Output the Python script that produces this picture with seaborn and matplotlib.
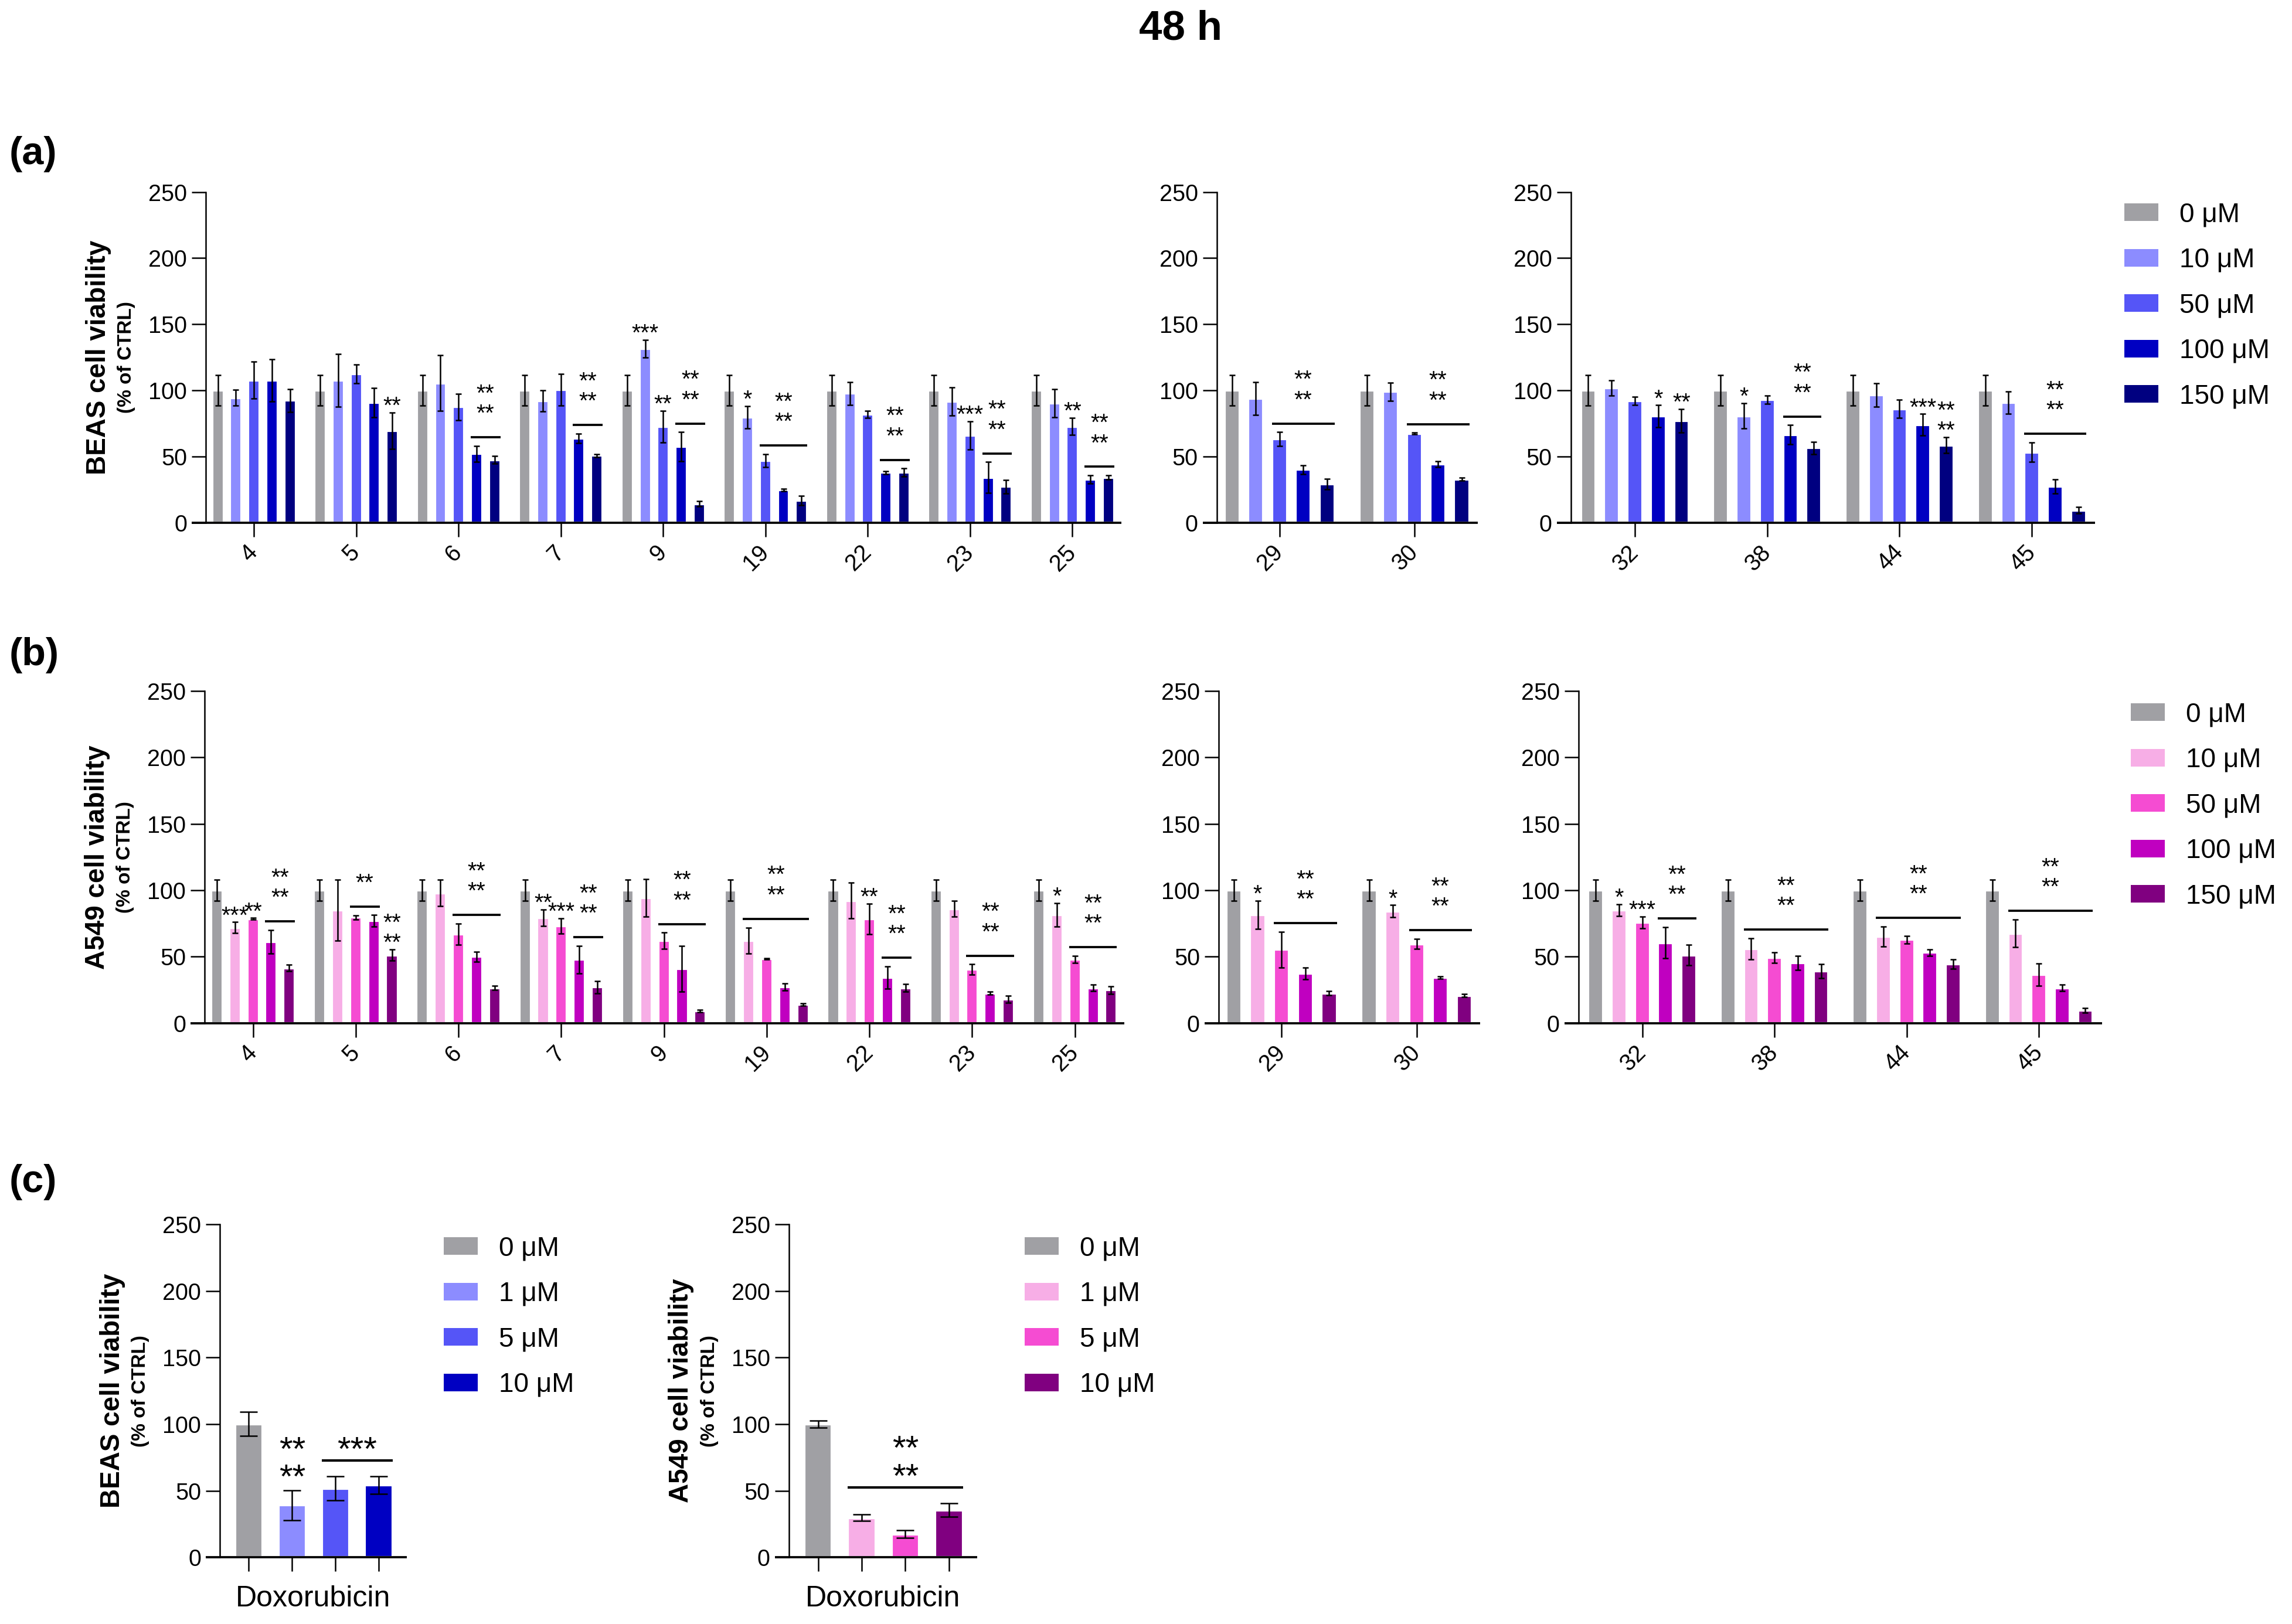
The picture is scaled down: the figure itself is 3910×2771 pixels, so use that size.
"""48 h viability of BEAS and A549 cells: grouped bars with SD and significance marks."""

import matplotlib

matplotlib.use("Agg")
import matplotlib.pyplot as plt
import pandas as pd
import seaborn as sns
from matplotlib.patches import Patch

# ---------------------------------------------------------------- data
DOSES = ["0 μM", "10 μM", "50 μM", "100 μM", "150 μM"]
COMPOUNDS = ["4", "5", "6", "7", "9", "19", "22", "23", "25", "29", "30", "32", "38", "44", "45"]

BEAS_MEAN = [
    [100, 94.5, 107.7, 107.7, 92.4],
    [100, 107.7, 112.5, 90.7, 69.6],
    [100, 105.5, 87.6, 52.2, 47.6],
    [100, 92.0, 100.5, 63.9, 50.8],
    [100, 131.6, 72.8, 57.5, 14.2],
    [100, 79.7, 47.0, 24.7, 16.7],
    [100, 97.7, 81.9, 37.9, 38.0],
    [100, 91.8, 66.0, 34.3, 27.3],
    [100, 90.3, 72.8, 32.8, 34.3],
    [100, 94.0, 63.3, 40.2, 29.4],
    [100, 99.0, 67.4, 44.1, 32.8],
    [100, 102.0, 92.0, 80.4, 77.2],
    [100, 80.8, 92.9, 66.6, 56.5],
    [100, 96.7, 86.0, 74.0, 58.6],
    [100, 90.7, 53.3, 27.3, 9.5],
]
BEAS_SD = [
    [11.5, 6.0, 14.0, 16.0, 8.5],
    [11.5, 20.0, 7.0, 11.0, 13.7],
    [11.5, 21.0, 10.0, 6.0, 3.0],
    [11.5, 8.0, 12.0, 3.6, 1.0],
    [11.5, 6.7, 12.0, 11.0, 2.0],
    [11.5, 8.5, 5.0, 1.0, 3.5],
    [11.5, 8.5, 2.7, 1.0, 3.0],
    [11.5, 10.6, 10.6, 11.6, 5.0],
    [11.5, 10.6, 6.5, 3.0, 1.5],
    [11.5, 12.5, 5.2, 3.4, 4.0],
    [11.5, 6.8, 0.6, 2.2, 1.1],
    [11.5, 5.7, 3.0, 8.4, 8.8],
    [11.5, 9.5, 3.2, 7.2, 4.6],
    [11.5, 8.8, 6.8, 8.2, 6.0],
    [11.5, 8.5, 7.4, 5.3, 2.5],
]

A549_MEAN = [
    [100, 72.0, 78.5, 61.2, 41.5],
    [100, 85.0, 79.6, 76.9, 51.2],
    [100, 98.0, 67.0, 50.1, 26.5],
    [100, 79.2, 73.2, 47.8, 27.2],
    [100, 94.2, 61.9, 40.9, 9.2],
    [100, 62.3, 48.5, 27.2, 13.9],
    [100, 92.3, 78.5, 34.2, 26.5],
    [100, 86.1, 40.4, 22.6, 18.0],
    [100, 81.5, 48.0, 26.5, 24.9],
    [100, 81.5, 55.4, 37.4, 22.6],
    [100, 84.3, 59.6, 34.2, 20.8],
    [100, 85.0, 75.7, 60.5, 51.2],
    [100, 55.9, 49.2, 45.5, 39.2],
    [100, 65.1, 62.8, 53.1, 44.3],
    [100, 67.6, 36.5, 26.5, 9.7],
]
A549_SD = [
    [8.0, 4.0, 0.6, 8.8, 2.3],
    [8.0, 23.0, 1.6, 4.4, 4.2],
    [8.0, 10.0, 8.0, 3.7, 1.6],
    [8.0, 6.2, 5.8, 10.4, 4.6],
    [8.0, 14.0, 6.2, 17.3, 0.8],
    [8.0, 9.7, 0.5, 2.8, 1.0],
    [8.0, 13.4, 11.5, 8.5, 3.0],
    [8.0, 5.8, 3.9, 1.2, 2.8],
    [8.0, 9.0, 2.8, 2.3, 2.8],
    [8.0, 10.8, 13.4, 4.6, 1.6],
    [8.0, 4.6, 3.9, 1.0, 1.2],
    [8.0, 4.6, 4.4, 11.8, 7.7],
    [8.0, 8.0, 3.9, 5.3, 5.3],
    [8.0, 7.6, 3.0, 2.3, 3.5],
    [8.0, 10.4, 8.5, 2.3, 1.8],
]

# (compound, first dose index, last dose index, stars, bracket line)
BEAS_MARKS = [
    ("5", 4, 4, "**", False),
    ("6", 3, 4, "****", True),
    ("7", 3, 4, "****", True),
    ("9", 1, 1, "***", False), ("9", 2, 2, "**", False), ("9", 3, 4, "****", True),
    ("19", 1, 1, "*", False), ("19", 2, 4, "****", True),
    ("22", 3, 4, "****", True),
    ("23", 2, 2, "***", False), ("23", 3, 4, "****", True),
    ("25", 2, 2, "**", False), ("25", 3, 4, "****", True),
    ("29", 2, 4, "****", True),
    ("30", 2, 4, "****", True),
    ("32", 3, 3, "*", False), ("32", 4, 4, "**", False),
    ("38", 1, 1, "*", False), ("38", 3, 4, "****", True),
    ("44", 3, 3, "***", False), ("44", 4, 4, "****", False),
    ("45", 2, 4, "****", True),
]
A549_MARKS = [
    ("4", 1, 1, "***", False), ("4", 2, 2, "**", False), ("4", 3, 4, "****", True),
    ("5", 2, 3, "**", True), ("5", 4, 4, "****", False),
    ("6", 2, 4, "****", True),
    ("7", 1, 1, "**", False), ("7", 2, 2, "***", False), ("7", 3, 4, "****", True),
    ("9", 2, 4, "****", True),
    ("19", 1, 4, "****", True),
    ("22", 2, 2, "**", False), ("22", 3, 4, "****", True),
    ("23", 2, 4, "****", True),
    ("25", 1, 1, "*", False), ("25", 2, 4, "****", True),
    ("29", 1, 1, "*", False), ("29", 2, 4, "****", True),
    ("30", 1, 1, "*", False), ("30", 2, 4, "****", True),
    ("32", 1, 1, "*", False), ("32", 2, 2, "***", False), ("32", 3, 4, "****", True),
    ("38", 1, 4, "****", True),
    ("44", 1, 4, "****", True),
    ("45", 1, 4, "****", True),
]

DOX_DOSES = ["0 μM", "1 μM", "5 μM", "10 μM"]
DOX_BEAS_MEAN = [100, 39.1, 51.6, 54.0]
DOX_BEAS_SD = [9.0, 11.2, 9.0, 6.6]
DOX_A549_MEAN = [100, 29.6, 17.4, 35.4]
DOX_A549_SD = [2.6, 2.4, 2.9, 5.2]
DOX_BEAS_MARKS = [("Doxorubicin", 1, 1, "****", False), ("Doxorubicin", 2, 3, "***", True)]
DOX_A549_MARKS = [("Doxorubicin", 1, 3, "****", True)]

BEAS_COLORS = ["#A0A0A4", "#8C8CFF", "#5555F7", "#0000C2", "#000080"]
A549_COLORS = ["#A0A0A4", "#F7AEE6", "#F54CD2", "#C000C0", "#800080"]
DOX_BEAS_COLORS = BEAS_COLORS[:4]
DOX_A549_COLORS = ["#A0A0A4", "#F7AEE6", "#F54CD2", "#800080"]

# ---------------------------------------------------------------- layout
FIG_W, FIG_H = 3910 / 300, 2771 / 300
GROUP_SLICES = [slice(0, 9), slice(9, 11), slice(11, 15)]
GROUP_XLIMS = [(-0.47, 8.48), (-0.465, 1.47), (-0.483, 3.478)]
A_RECTS = [
    (0.0898, 0.6781, 0.3995, 0.2037),
    (0.5309, 0.6781, 0.1138, 0.2037),
    (0.6854, 0.6781, 0.2287, 0.2037),
]
B_RECTS = [
    (0.0893, 0.3700, 0.4012, 0.2045),
    (0.5317, 0.3700, 0.1141, 0.2045),
    (0.6887, 0.3700, 0.2284, 0.2045),
]
C_RECTS = [(0.0959, 0.0411, 0.0816, 0.2050), (0.3442, 0.0411, 0.0822, 0.2050)]
TICK_LEN = 5.7


def style_axis(ax, xlim):
    """GraphPad-like axes: left spine, bottom line running out to the tick start."""
    ax.set_ylim(0, 250)
    ax.set_yticks(range(0, 251, 50))
    ax.set_xlim(*xlim)
    ax.spines[["top", "right", "bottom"]].set_visible(False)
    ax.spines["left"].set_linewidth(0.6)
    ax.tick_params(axis="both", length=TICK_LEN, width=0.6, labelsize=9.5, colors="black")
    ax.tick_params(axis="y", pad=2)
    width_pt = ax.get_position().width * FIG_W * 72
    ax.plot([-TICK_LEN / width_pt, 1], [0, 0], transform=ax.transAxes, color="black",
            lw=0.9, clip_on=False, solid_capstyle="butt", zorder=4)
    ax.set_xlabel("")
    ax.set_ylabel("")


def add_errorbars(ax, bars, sds, capsize):
    xs = [b.get_x() + b.get_width() / 2 for b in bars]
    ys = [b.get_height() for b in bars]
    ax.errorbar(xs, ys, yerr=sds, fmt="none", ecolor="black", elinewidth=0.6,
                capsize=capsize, capthick=0.6, zorder=3, clip_on=False)


def add_marks(ax, bar_lookup, sd_lookup, marks, fs, line_pad, bar_lift, line_lift, row_gap, lw):
    """Stars above single bars or above a bracket line spanning several bars."""
    spacing = row_gap / (0.716 * fs)
    for key, first, last, label, has_line in marks:
        if key not in bar_lookup:
            continue
        span = bar_lookup[key][first:last + 1]
        sds = sd_lookup[key][first:last + 1]
        top = max(b.get_height() + s for b, s in zip(span, sds))
        left = span[0].get_x()
        right = span[-1].get_x() + span[-1].get_width()
        x = (left + right) / 2
        if has_line:
            y = top + line_pad
            ax.plot([left, right], [y, y], color="black", lw=lw, clip_on=False,
                    solid_capstyle="butt")
            lift = line_lift
        else:
            y = top
            lift = bar_lift
        text = "**\n**" if label == "****" else label
        ax.annotate(text, (x, y), xytext=(0, lift - 0.54 * fs), textcoords="offset points",
                    ha="center", va="baseline", fontsize=fs, linespacing=spacing,
                    annotation_clip=False)


def add_ylabel(ax, cell):
    ax.annotate(f"{cell} cell viability", xy=(0, 0.5), xycoords="axes fraction",
                xytext=(-44, 0), textcoords="offset points", rotation=90,
                ha="center", va="center", fontsize=11, fontweight="bold")
    ax.annotate("(% of CTRL)", xy=(0, 0.5), xycoords="axes fraction",
                xytext=(-32.5, 0), textcoords="offset points", rotation=90,
                ha="center", va="center", fontsize=8, fontweight="bold")


def add_legend(fig, colors, labels, anchor):
    handles = [Patch(facecolor=c, edgecolor="none") for c in colors]
    fig.legend(handles, labels, loc="upper left", bbox_to_anchor=anchor, frameon=False,
               fontsize=11, handlelength=1.27, handleheight=0.63, handletextpad=0.78,
               labelspacing=0.73, borderpad=0, borderaxespad=0)


def draw_cell_row(fig, rects, means, sds, marks, colors, cell):
    frame = pd.DataFrame(
        [
            {"compound": c, "dose": d, "viability": v}
            for c, row in zip(COMPOUNDS, means)
            for d, v in zip(DOSES, row)
        ]
    )
    for idx, (rect, sl, xlim) in enumerate(zip(rects, GROUP_SLICES, GROUP_XLIMS)):
        ax = fig.add_axes(rect)
        order = COMPOUNDS[sl]
        sns.barplot(data=frame[frame["compound"].isin(order)], x="compound", y="viability",
                    hue="dose", order=order, hue_order=DOSES, palette=colors,
                    width=0.88, gap=0.35, errorbar=None, saturation=1, legend=False, ax=ax)
        containers = list(ax.containers)
        bar_lookup = {c: [containers[i][j] for i in range(len(DOSES))] for j, c in enumerate(order)}
        sd_lookup = {c: sds[COMPOUNDS.index(c)] for c in order}
        for c in order:
            add_errorbars(ax, bar_lookup[c], sd_lookup[c], capsize=1.3)
        style_axis(ax, xlim)
        for lab in ax.get_xticklabels():
            lab.set_rotation(45)
            lab.set_ha("right")
            lab.set_va("center")
            lab.set_rotation_mode("anchor")
        ax.tick_params(axis="x", pad=5)
        add_marks(ax, bar_lookup, sd_lookup, marks, fs=9.5, line_pad=6.5,
                  bar_lift=4.9, line_lift=11.9, row_gap=6.0, lw=0.9)
        if idx == 0:
            add_ylabel(ax, cell)


def draw_dox(fig, rect, means, sds, marks, colors, cell):
    frame = pd.DataFrame({"dose": DOX_DOSES, "viability": means})
    ax = fig.add_axes(rect)
    sns.barplot(data=frame, x="dose", y="viability", hue="dose", order=DOX_DOSES,
                hue_order=DOX_DOSES, palette=colors, width=0.64, errorbar=None,
                saturation=1, legend=False, ax=ax)
    bars = sorted([b for cont in ax.containers for b in cont], key=lambda b: b.get_x())
    add_errorbars(ax, bars, sds, capsize=3.5)
    style_axis(ax, (-0.67, 3.65))
    ax.set_xticks(range(len(DOX_DOSES)))
    ax.set_xticklabels([])
    ax.annotate("Doxorubicin", xy=(0.5, 0), xycoords="axes fraction", xytext=(0, -17),
                textcoords="offset points", ha="center", va="center", fontsize=12)
    add_marks(ax, {"Doxorubicin": bars}, {"Doxorubicin": sds}, marks, fs=14, line_pad=12,
              bar_lift=8.5, line_lift=7.6, row_gap=8.5, lw=1.0)
    add_ylabel(ax, cell)


def main():
    sns.set_theme(style="ticks")
    plt.rcParams["font.family"] = ["Liberation Sans", "DejaVu Sans"]
    plt.rcParams.update({
        "text.color": "black",
        "axes.labelcolor": "black",
        "axes.edgecolor": "black",
        "xtick.color": "black",
        "ytick.color": "black",
    })

    fig = plt.figure(figsize=(FIG_W, FIG_H), dpi=300)
    fig.patch.set_facecolor("white")

    draw_cell_row(fig, A_RECTS, BEAS_MEAN, BEAS_SD, BEAS_MARKS, BEAS_COLORS, "BEAS")
    draw_cell_row(fig, B_RECTS, A549_MEAN, A549_SD, A549_MARKS, A549_COLORS, "A549")
    draw_dox(fig, C_RECTS[0], DOX_BEAS_MEAN, DOX_BEAS_SD, DOX_BEAS_MARKS, DOX_BEAS_COLORS, "BEAS")
    draw_dox(fig, C_RECTS[1], DOX_A549_MEAN, DOX_A549_SD, DOX_A549_MARKS, DOX_A549_COLORS, "A549")

    add_legend(fig, BEAS_COLORS, DOSES, (0.9269, 0.8757))
    add_legend(fig, A549_COLORS, DOSES, (0.9297, 0.5679))
    add_legend(fig, DOX_BEAS_COLORS, DOX_DOSES, (0.1936, 0.2391))
    add_legend(fig, DOX_A549_COLORS, DOX_DOSES, (0.4471, 0.2391))

    fig.text(0.515, 0.982, "48 h", ha="center", va="center", fontsize=17, fontweight="bold")
    for letter, y in [("(a)", 0.905), ("(b)", 0.5966), ("(c)", 0.272)]:
        fig.text(0.004, y, letter, ha="left", va="center", fontsize=16, fontweight="bold")

    fig.savefig("out.png", dpi=300)
    plt.close(fig)


if __name__ == "__main__":
    main()
